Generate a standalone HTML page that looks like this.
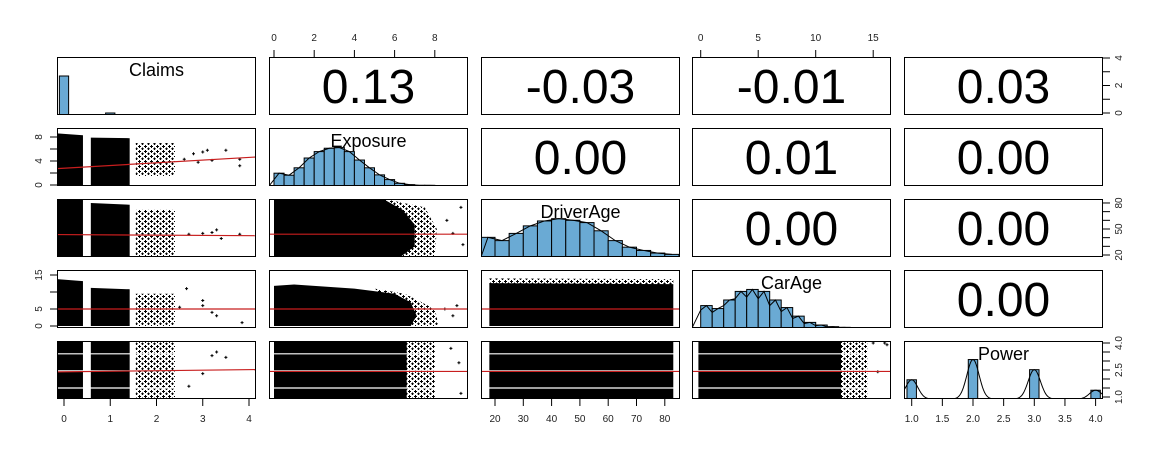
<!DOCTYPE html>
<html><head><meta charset="utf-8">
<style>
html,body{margin:0;padding:0;background:#fff;}
svg{display:block;font-family:"Liberation Sans",Arial,sans-serif;}
</style></head>
<body>
<svg id="chart" width="1161" height="458" viewBox="0 0 1161 458">
<defs>
<pattern id="sparse" width="6" height="5" patternUnits="userSpaceOnUse">
<path d="M1.5 0v3M0 1.5h3" stroke="#000" stroke-width="1"/>
<path d="M4.5 2.5v2.5M3.2 3.7h2.6" stroke="#000" stroke-width="1"/>
</pattern>
</defs>
</svg>
<script>
// ===== data =====
const varNames = ["Claims","Exposure","DriverAge","CarAge","Power"];
const corrValues = ["0.13","-0.03","-0.01","0.03","0.00","0.01","0.00","0.00","0.00","0.00"];
const claimsBinCenters = [0,1,2,3,4];
const claimsCounts = [39,2,0.3,0,0];
const exposureBinStart = 0;
const exposureCounts = [38,32,54,83,102,112,114,102,77,54,33,19,8,4,2,2,1,1,1];
const driverAgeBinStart = 15;
const driverAgeCounts = [60,50,72,95,110,117,112,105,80,50,30,20,12,8];
const carAgeBinStart = 0;
const carAgeCounts = [68,59,85,111,117,111,85,62,36,17,9,4,2,1,1];
const powerLevels = [1,2,3,4];
const powerCounts = [57,117,87,26];
const exposureTicks = [0,2,4,6,8];
const carAgeTicks = [0,5,10,15];
const claimsTicks = [0,1,2,3,4];
const driverAgeTicks = [20,30,40,50,60,70,80];
const powerTicks = [1,1.5,2,2.5,3,3.5,4];
const regIntercepts = {"1-0":2.8,"2-0":43.5,"2-1":44,"3-0":5,"3-1":5,"3-2":5,"4-0":2.4,"4-1":2.42,"4-2":2.42,"4-3":2.42};
const regSlopes = {"1-0":0.45,"2-0":-0.3,"2-1":0,"3-0":0,"3-1":0,"3-2":0,"4-0":0.03,"4-1":0,"4-2":0,"4-3":0};
const denseBlobs = {
 "1-0":[[[-0.15,0],[0.41,0],[0.41,8.3],[-0.15,8.6]],[[0.58,0],[1.42,0],[1.42,7.8],[0.58,7.9]]],
 "2-0":[[[-0.15,18],[0.41,18],[0.41,85],[-0.15,85]],[[0.58,18],[1.42,18],[1.42,78],[0.58,80]]],
 "2-1":[[[0,18],[6.3,18],[7.0,30],[7.0,55],[6.4,72],[5.4,85],[0,85]]],
 "2-2":[],
 "3-0":[[[-0.15,0],[0.41,0],[0.41,13.2],[-0.15,13.8]],[[0.58,0],[1.42,0],[1.42,10.8],[0.58,11.2]]],
 "3-1":[[[0,0],[6.8,0],[7.1,3],[6.8,7],[6,9.5],[4,11],[1,12.2],[0,11.8]]],
 "3-2":[[[18,0],[83,0],[83,12.3],[18,12.6]]],
 "4-0":[[[-0.15,0.9],[0.41,0.9],[0.41,4.1],[-0.15,4.1]],[[0.58,0.9],[1.42,0.9],[1.42,4.1],[0.58,4.1]]],
 "4-1":[[[0,0.9],[6.6,0.9],[6.6,4.1],[0,4.1]]],
 "4-2":[[[18,0.9],[83,0.9],[83,4.1],[18,4.1]]],
 "4-3":[[[-0.2,0.9],[12.2,0.9],[12.2,4.1],[-0.2,4.1]]]
};
const sparseBlobs = {
 "1-0":[[[1.55,1.5],[2.4,1.5],[2.4,7.0],[1.55,7.0]]],
 "2-0":[[[1.55,18],[2.4,18],[2.4,72],[1.55,72]]],
 "2-1":[[[6.0,18],[8.0,18],[8.1,50],[7.5,75],[5.4,85]]],
 "3-0":[[[1.55,0],[2.4,0],[2.4,9.5],[1.55,9.5]]],
 "3-1":[[[6.0,0],[8.2,0],[8.0,5],[6.5,9.5],[5,11]]],
 "3-2":[[[18,12.2],[83,12.0],[83,13.8],[18,14.0]]],
 "4-0":[[[1.55,0.9],[2.4,0.9],[2.4,4.1],[1.55,4.1]]],
 "4-1":[[[6.4,0.9],[8.0,0.9],[8.0,4.1],[6.4,4.1]]],
 "4-3":[[[12,0.9],[14.5,0.9],[14.5,4.1],[12,4.1]]]
};
const gapLines = {"4-0":[1.5,2.45,3.4],"4-1":[1.5,2.45,3.4],"4-2":[1.5,2.45,3.4],"4-3":[1.5,2.45,3.4]};
const outlierX = {"1-0":[2.6,2.8,3.0,3.1,3.2,3.5,3.8,3.8,2.9],"2-0":[2.7,3.0,3.2,3.3,3.4,3.8],"2-1":[9.3,9.4,8.6,8.9],"3-0":[2.65,3.0,3.0,3.2,3.3,3.85,2.5],"3-1":[8.5,8.9,9.1],"4-0":[2.7,3.0,3.2,3.3,3.5],"4-1":[8.8,9.2,9.3],"4-3":[15,16,15.4,16.2]};
const outlierY = {"1-0":[4.3,5.2,5.5,5.8,4.1,5.8,4.3,3.2,3.8],"2-0":[44,45,46,49,39,44],"2-1":[75,32,60,45],"3-0":[11,6,7.5,4,3,1,5.5],"3-1":[5,3,6],"4-0":[1.6,2.3,3.3,3.5,3.2],"4-1":[3.7,2.9,1.2],"4-3":[4,4,2.4,3.9]};

// ===== layout =====
const colX=[57,269,481,692,904], rowY=[57,128,199,270,341], W=199, H=58;
const relX=[v=>7+46.25*v, v=>5+20.1*v, v=>14+2.83*(v-20), v=>8.7+11.5*v, v=>7.7+61.3*(v-1)];
const relY=[v=>56-13.75*v, v=>57-6*v, v=>56-0.867*(v-20), v=>56-3.4*v, v=>56-18*(v-1)];
const X=(j,v)=>colX[j]+relX[j](v);
const Y=(i,v)=>rowY[i]+relY[i](v);
const NS="http://www.w3.org/2000/svg";
const svg=document.getElementById("chart");
function mk(tag,attrs,parent){const e=document.createElementNS(NS,tag);for(const k in attrs)e.setAttribute(k,attrs[k]);(parent||svg).appendChild(e);return e;}

for(let i=0;i<5;i++)for(let j=0;j<5;j++){
 const key=i+"-"+j;
 const g=mk("g",{});
 
 
 const cid="clip"+i+j;
 const cp=mk("clipPath",{id:cid},g); mk("rect",{x:colX[j],y:rowY[i],width:W,height:H},cp);
 const inner=mk("g",{"clip-path":"url(#"+cid+")"},g);
 if(i>j){
  (denseBlobs[key]||[]).forEach(poly=>{
   const p=mk("polygon",{points:poly.map(q=>X(j,q[0])+","+Y(i,q[1])).join(" "),fill:"#000"},inner);
   
   
  });
  (sparseBlobs[key]||[]).forEach(poly=>{
   const p=mk("polygon",{points:poly.map(q=>X(j,q[0])+","+Y(i,q[1])).join(" "),fill:"url(#sparse)"},inner);
   
   
  });
  (gapLines[key]||[]).forEach(v=>{
   mk("line",{x1:colX[j],x2:colX[j]+W,y1:Y(i,v),y2:Y(i,v),stroke:"#fff","stroke-width":1.2},inner);
  });
  const ox=outlierX[key]||[], oy=outlierY[key]||[];
  ox.forEach((xv,k)=>{
   const px=X(j,xv), py=Y(i,oy[k]);
   const pt=mk("path",{d:`M${px-1.5} ${py}h3M${px} ${py-1.5}v3`,stroke:"#000","stroke-width":1},inner);
   
   
  });
  const a=regIntercepts[key], b=regSlopes[key];
  const dx0=[-0.3,-0.5,15,-1,0.8][j], dx1=[4.3,10,86,17.5,4.2][j];
  const rl=mk("line",{x1:X(j,dx0),y1:Y(i,a+b*dx0),x2:X(j,dx1),y2:Y(i,a+b*dx1),stroke:"#c81e1e","stroke-width":1.2},inner);
  
  
 } else if(i<j){
  let idx=0; for(let r=0;r<5;r++)for(let c=r+1;c<5;c++){if(r<i||(r===i&&c<j))idx++;}
  const t=mk("text",{x:colX[j]+W/2,y:rowY[i]+H/2+17,"text-anchor":"middle","font-size":48,fill:"#000"},inner);
  t.textContent=corrValues[idx];
  
  
 } else {
  const base=rowY[i]+H;
  let bars=[];
  if(i===0) claimsBinCenters.forEach((c,k)=>bars.push([c-0.1,c+0.1,claimsCounts[k]/58]));
  if(i===1) exposureCounts.forEach((c,k)=>bars.push([exposureBinStart+k*0.5,exposureBinStart+k*0.5+0.5,c/172]));
  if(i===2) driverAgeCounts.forEach((c,k)=>bars.push([driverAgeBinStart+k*5,driverAgeBinStart+k*5+5,c/177]));
  if(i===3) carAgeCounts.forEach((c,k)=>bars.push([carAgeBinStart+k,carAgeBinStart+k+1,c/176]));
  if(i===4) powerLevels.forEach((c,k)=>bars.push([c-0.077,c+0.077,powerCounts[k]/172]));
  bars.forEach(b=>{
   const h=b[2]*H; if(h<=0)return;
   const r=mk("rect",{x:X(j,b[0]),y:base-h,width:X(j,b[1])-X(j,b[0]),height:h,fill:"#6aaad4",stroke:"#000","stroke-width":1},inner);
   
   
  });
  if(i>0){
   let pts=[];
   if(i===4){
    for(let v=0.85;v<=4.15;v+=0.01){let d=0;bars.forEach(b=>{const c=(b[0]+b[1])/2;d+=b[2]*Math.exp(-((v-c)**2)/(2*0.1*0.1));});pts.push([X(j,v),base-d*H]);}
   } else {
    bars.forEach((b,k)=>{
     const mid=(b[0]+b[1])/2;
     if(i===3){pts.push([X(j,b[0]),base-b[2]*H*0.8]);}
     pts.push([X(j,mid),base-b[2]*H]);
    });
    pts.unshift([colX[j],base]);
   }
   const cl=mk("polyline",{points:pts.map(p=>p.join(",")).join(" "),fill:"none",stroke:"#000","stroke-width":1},inner);
   
   
  }
  const t=mk("text",{x:colX[j]+W/2,y:rowY[i]+19,"text-anchor":"middle","font-size":18,fill:"#000"},g);
  t.textContent=varNames[i];
  
  
 }
 const fr=mk("rect",{x:colX[j]+0.5,y:rowY[i]+0.5,width:W-1,height:H-1,fill:"none",stroke:"#000","stroke-width":1},g);
 
 
}

// ===== axes =====
function fmt(v,dec){return dec?v.toFixed(1):String(v);}
function topAxis(j,ticks){const g=mk("g",{});
 ticks.forEach(v=>{const x=X(j,v);mk("line",{x1:x,x2:x,y1:rowY[0],y2:rowY[0]-7,stroke:"#000"},g);
  const t=mk("text",{x:x,y:rowY[0]-16,"text-anchor":"middle","font-size":10,fill:"#222"},g);t.textContent=fmt(v);});}
function bottomAxis(j,ticks,dec){const g=mk("g",{});
 const yb=rowY[4]+H;
 ticks.forEach(v=>{const x=X(j,v);mk("line",{x1:x,x2:x,y1:yb,y2:yb+7,stroke:"#000"},g);
  const t=mk("text",{x:x,y:yb+23,"text-anchor":"middle","font-size":10,fill:"#222"},g);t.textContent=fmt(v,dec);});}
function sideAxis(i,ticks,labels,right,dec){const g=mk("g",{});
 const xe=right?colX[4]+W:colX[0], d=right?7:-7;
 ticks.forEach(v=>{const y=Y(i,v);mk("line",{x1:xe,x2:xe+d,y1:y,y2:y,stroke:"#000"},g);});
 labels.forEach(v=>{const y=Y(i,v),lx=right?xe+d+12:xe+d-8;
  const t=mk("text",{x:lx,y:y,"text-anchor":"middle","font-size":10,fill:"#222",transform:`rotate(-90 ${lx} ${y})`},g);t.textContent=fmt(v,dec);});}
topAxis(1,exposureTicks);
topAxis(3,carAgeTicks);
bottomAxis(0,claimsTicks,false);
bottomAxis(2,driverAgeTicks,false);
bottomAxis(4,powerTicks,true);
sideAxis(1,exposureTicks,[0,4,8],false,false);
sideAxis(3,carAgeTicks,[0,5,15],false,false);
sideAxis(0,claimsTicks,[0,2,4],true,false);
sideAxis(2,driverAgeTicks,[20,50,80],true,false);
sideAxis(4,powerTicks,[1,2.5,4],true,true);
</script>
</body></html>
